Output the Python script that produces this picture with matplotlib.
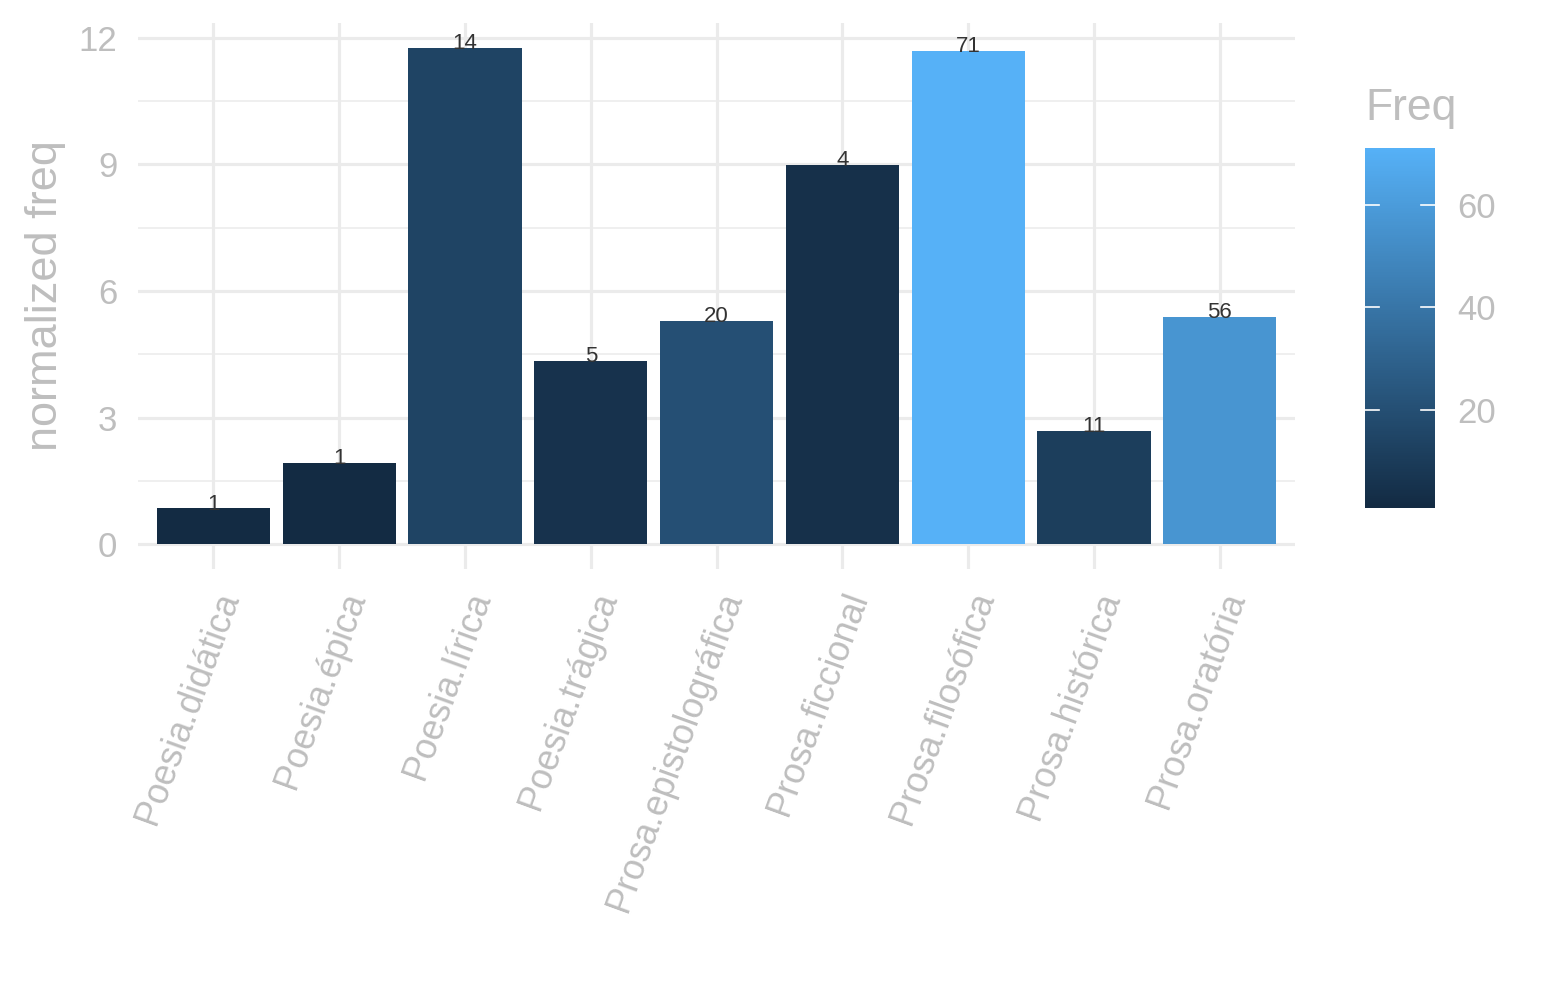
import numpy as np
import matplotlib
matplotlib.use("Agg")
import matplotlib.pyplot as plt
from matplotlib.colors import LinearSegmentedColormap, Normalize

# ------------ Data ---------------
genres = ["Poesia.didática", "Poesia.épica", "Poesia.lírica", "Poesia.trágica",
          "Prosa.epistolográfica", "Prosa.ficcional", "Prosa.filosófica",
          "Prosa.histórica", "Prosa.oratória"]
norm_freq = [0.85, 1.92, 11.76, 4.34, 5.29, 8.99, 11.69, 2.68, 5.38]
freq = [1, 1, 14, 5, 20, 4, 71, 11, 56]

grey_txt = "#BEBEBE"
grid_col = "#EBEBEB"
plt.rcParams['font.family'] = ['Liberation Sans', 'DejaVu Sans']

cmap = LinearSegmentedColormap.from_list("gg", ["#132B43", "#56B1F7"])
norm = Normalize(vmin=min(freq), vmax=max(freq))

fig = plt.figure(figsize=(15.45, 10), dpi=100)
ax = fig.add_axes([0.0893, 0.431, 0.749, 0.546])

x = np.arange(len(genres))
ax.bar(x, norm_freq, width=0.9, color=cmap(norm(freq)), zorder=3)

for xi, yi, f in zip(x, norm_freq, freq):
	ax.annotate(str(f), (xi, yi), xytext=(0, -1), textcoords="offset points",
	            ha="center", va="baseline", fontsize=16, color="#333333", zorder=4)

ax.set_xlim(-0.6, len(genres) - 0.4)
ax.set_ylim(-0.59, 12.35)
ax.set_yticks([0, 3, 6, 9, 12])
ax.set_yticks([1.5, 4.5, 7.5, 10.5], minor=True)
ax.set_xticks(x)
ax.set_xticklabels(genres, rotation=70, ha="right", va="top", rotation_mode="anchor")

ax.grid(True, which="major", color=grid_col, lw=2.3, zorder=0)
ax.grid(True, which="minor", axis="y", color=grid_col, lw=1.1, zorder=0)
for s in ax.spines.values():
	s.set_visible(False)
ax.tick_params(axis="both", which="both", length=0, colors=grey_txt, labelsize=25)
ax.tick_params(axis="x", pad=13, labelsize=26)
ax.tick_params(axis="y", pad=15)
ax.set_ylabel("normalized freq", color=grey_txt, fontsize=32.5, labelpad=9)

# ------------ Colour bar ---------------
cax = fig.add_axes([0.8835, 0.492, 0.0453, 0.36])
grad = np.linspace(min(freq), max(freq), 300).reshape(-1, 1)
cax.imshow(grad, aspect="auto", origin="lower", cmap=cmap, norm=norm,
           extent=[0, 1, min(freq), max(freq)])
cax.set_xlim(0, 1)
cax.set_ylim(min(freq), max(freq))
for t in [20, 40, 60]:
	cax.plot([0, 0.2], [t, t], color="white", lw=1.2)
	cax.plot([0.8, 1], [t, t], color="white", lw=1.2)
cax.set_xticks([])
cax.set_yticks([20, 40, 60])
cax.yaxis.tick_right()
cax.tick_params(axis="y", length=0, colors=grey_txt, labelsize=25, pad=16)
for s in cax.spines.values():
	s.set_visible(False)
fig.text(0.8835, 0.880, "Freq", color=grey_txt, fontsize=32, ha="left", va="baseline")

fig.savefig("out.png", dpi=100)
